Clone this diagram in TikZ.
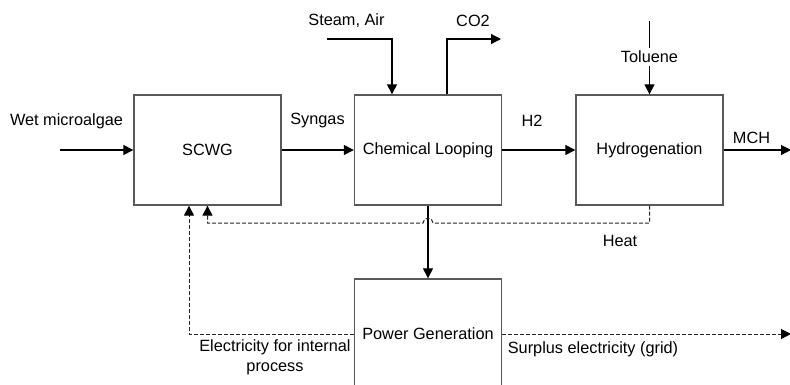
\documentclass[tikz,border=0pt]{standalone}
\usepackage{fontspec}
\setmainfont{Liberation Sans}
\usetikzlibrary{arrows.meta,calc}

\tikzset{
	unit/.style={draw=black!65, line width=1.3pt, minimum width=147pt, minimum height=110pt, inner sep=0pt},
	flow/.style={line width=1.1pt, -{Triangle[length=10pt, width=10pt]}},
	feed/.style={line width=1.1pt},
	aux/.style={line width=1pt, black!85, dash pattern=on 4pt off 2pt, -{Triangle[length=10pt, width=10pt, black]}},
	lbl/.style={inner sep=0pt, align=center},
}

\begin{document}
\begin{tikzpicture}[x=1pt, y=-1pt, font=\fontsize{16.3}{20}\selectfont]
		\useasboundingbox (0,0) rectangle (790,385);
		\clip (0,0) rectangle (790,385);
		% process units
		\node[unit] (sc) at (207.5,150) {SCWG};
		\node[unit] (cl) at (428,150) {Chemical Looping};
		\node[unit] (hy) at (649.5,150) {Hydrogenation};
		\node[unit] (pg) at (428,334) {Power Generation};
		% free ends
		\coordinate (algin) at (60,150);
		\coordinate (steamin) at (327,39);
		\coordinate (co2out) at (501,39);
		\coordinate (tolin) at (649.5,21);
		\coordinate (mchout) at (791,150);
		\coordinate (gridout) at (791,334);
		\coordinate (hop) at (428,223);
		% labels
		\node[lbl] (lalg) at (66.5,121) {Wet microalgae};
		\node[lbl] (lsyn) at (317.5,121) {Syngas};
		\node[lbl] (lsteam) at (346.5,21) {Steam, Air};
		\node[lbl] (lco2) at (473,21) {CO2};
		\node[lbl] (lh2) at (532,121) {H2};
		\node[lbl, inner sep=3pt] (ltol) at (649.5,57) {Toluene};
		\node[lbl] (lmch) at (751.5,138) {MCH};
		\node[lbl] (lheat) at (620,241) {Heat};
		\node[lbl] (lint) at (275,357) {Electricity for internal\\process};
		\node[lbl] (lgrid) at (593,349) {Surplus electricity (grid)};
		% main streams
		\draw[flow] (algin) -- (sc);
		\draw[flow] (sc) -- (cl);
		\draw[flow] (cl) -- (hy);
		\draw[flow] (hy) -- (mchout);
		\draw[flow] (steamin) -| ([xshift=-36pt]cl.north);
		\draw[flow] ([xshift=19pt]cl.north) |- (co2out);
		\draw[feed] (tolin) -- (ltol);
		\draw[flow] (ltol) -- (hy.north);
		\draw[flow] (cl) -- (pg);
		% heat and electricity
		\draw[aux] (hy.south) |- ([xshift=5pt]hop) arc[start angle=0, end angle=180, radius=5pt] -| (sc.south);
		\draw[aux] (pg.west) -| ([xshift=-18.5pt]sc.south);
		\draw[aux] (pg.east) -- (gridout);
	\end{tikzpicture}
\end{document}
